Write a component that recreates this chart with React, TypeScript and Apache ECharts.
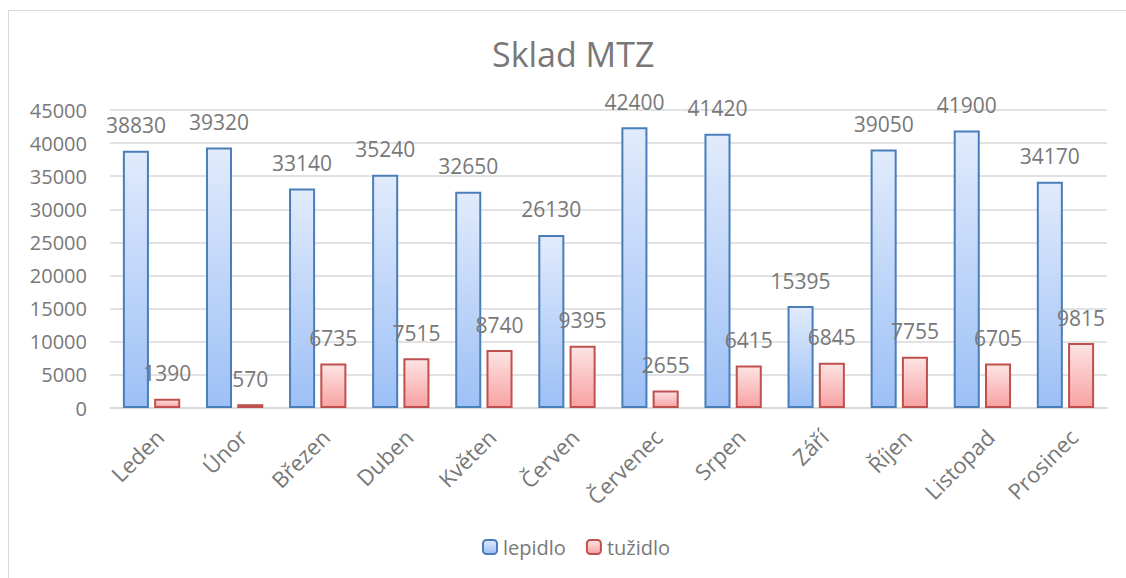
import React, { useEffect, useRef } from "react";
import * as echarts from "echarts";

const months = ["Leden", "Únor", "Březen", "Duben", "Květen", "Červen", "Červenec", "Srpen", "Září", "Říjen", "Listopad", "Prosinec"];
const lepidlo = [38830, 39320, 33140, 35240, 32650, 26130, 42400, 41420, 15395, 39050, 41900, 34170];
const tuzidlo = [1390, 570, 6735, 7515, 8740, 9395, 2655, 6415, 6845, 7755, 6705, 9815];
const yTicks = { min: 0, max: 45000, interval: 5000 };

const FONT = "Open Sans";
const GREY = "#787878";

export default function App() {
  const ref = useRef<HTMLDivElement>(null);
  useEffect(() => {
    const chart = echarts.init(ref.current!, null, { renderer: "svg" });
    const grad = (top: string, bottom: string) =>
      new echarts.graphic.LinearGradient(0, 0, 0, 1, [
        { offset: 0, color: top },
        { offset: 1, color: bottom },
      ]);
    const label = {
      show: true,
      position: "top" as const,
      distance: 15,
      color: GREY,
      fontFamily: FONT,
      fontSize: 21,
    };
    chart.setOption({
      animation: false,
      textStyle: { fontFamily: FONT },
      title: {
        text: "Sklad MTZ",
        left: 478,
        top: 21,
        textStyle: { color: GREY, fontFamily: FONT, fontSize: 34, fontWeight: "normal" },
      },
      legend: {
        bottom: 16,
        left: 468,
        itemWidth: 14,
        itemHeight: 14,
        itemGap: 20,
        textStyle: { color: GREY, fontFamily: FONT, fontSize: 20, padding: [0, 0, 0, 1] },
        data: ["lepidlo", "tužidlo"],
      },
      grid: { left: 101, right: 19, top: 99, bottom: 170, containLabel: false },
      xAxis: {
        type: "category",
        data: months,
        axisLine: { lineStyle: { color: "#d9d9d9", width: 1.5 } },
        axisTick: { show: false },
        axisLabel: {
          rotate: 45,
          color: GREY,
          fontFamily: FONT,
          fontSize: 22,
          margin: 17,
          interval: 0,
          verticalAlign: "top",
        },
      },
      yAxis: {
        type: "value",
        min: yTicks.min,
        max: yTicks.max,
        interval: yTicks.interval,
        axisLine: { show: false },
        axisTick: { show: false },
        axisLabel: { color: GREY, fontFamily: FONT, fontSize: 20, margin: 23, formatter: (v: number) => String(v) },
        splitLine: { lineStyle: { color: "#d9d9d9", width: 1.5 } },
      },
      series: [
        {
          name: "lepidlo",
          type: "bar",
          data: lepidlo,
          barGap: "20%",
          barCategoryGap: "31%",
          itemStyle: { color: grad("#e1ebfc", "#9dc0f6"), borderColor: "#4a7ebb", borderWidth: 2 },
          label,
        },
        {
          name: "tužidlo",
          type: "bar",
          data: tuzidlo,
          itemStyle: { color: grad("#fde4e4", "#f8a2a2"), borderColor: "#c0504d", borderWidth: 2 },
          label,
        },
      ],
    });
    return () => chart.dispose();
  }, []);
  return (
    <div
      style={{
        position: "absolute",
        left: 8,
        top: 10,
        width: 1118,
        height: 568,
        borderLeft: "1px solid #d9d9d9",
        borderTop: "1px solid #d9d9d9",
        boxSizing: "border-box",
        background: "#fff",
      }}
    >
      <div ref={ref} style={{ width: 1117, height: 567 }} />
    </div>
  );
}
